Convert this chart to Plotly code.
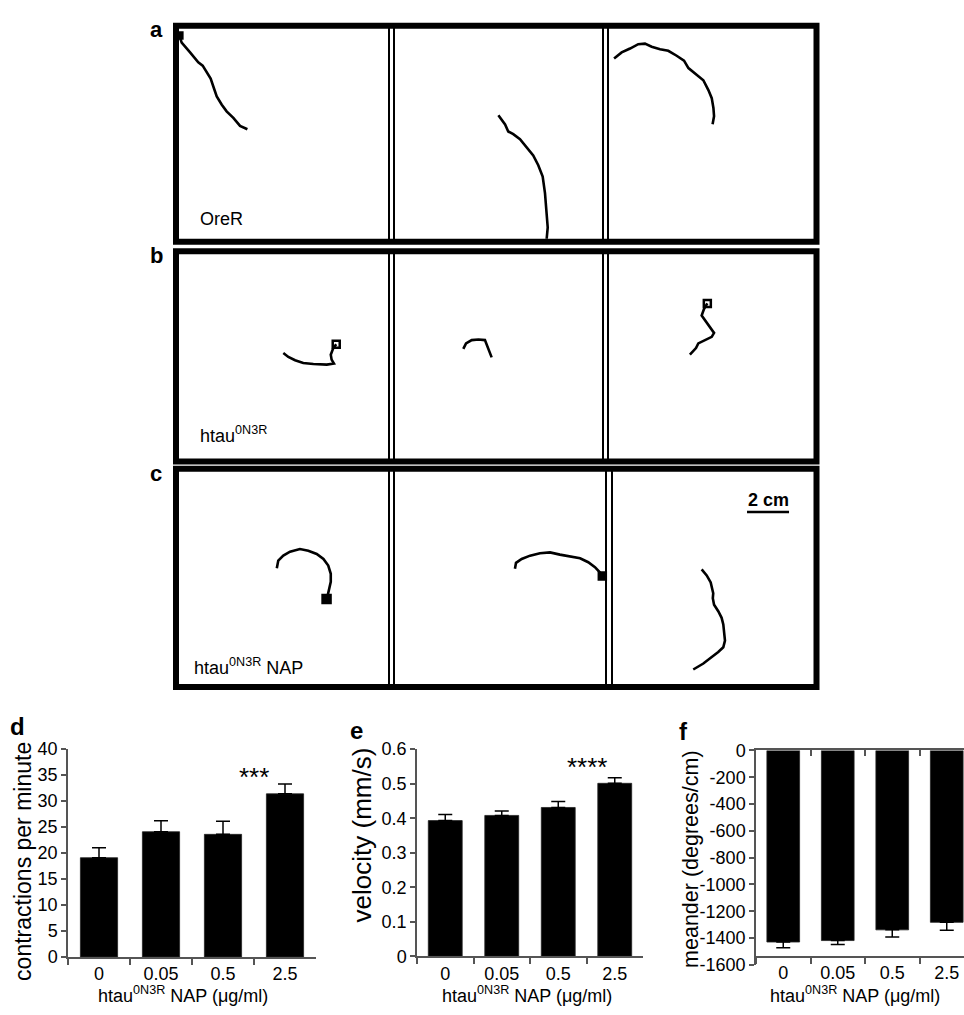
import plotly.graph_objects as go

W, H = 964, 1015
PX_PER_CM = 21.0
FONT = "Liberation Sans, Arial, Helvetica, sans-serif"
AX = "#555555"

# ---------------- bar-chart data ----------------
doses = ["0", "0.05", "0.5", "2.5"]
contractions = [19.1, 24.1, 23.6, 31.4]
contractions_sem = [1.9, 2.1, 2.5, 1.9]
velocity = [0.393, 0.408, 0.431, 0.501]
velocity_sem = [0.018, 0.013, 0.017, 0.016]
meander = [-1430, -1419, -1339, -1283]
meander_sem = [42, 30, 53, 60]

contr_ticks = [0, 5, 10, 15, 20, 25, 30, 35, 40]
vel_ticks = [0, 0.1, 0.2, 0.3, 0.4, 0.5, 0.6]
vel_ticktext = ["0", "0.1", "0.2", "0.3", "0.4", "0.5", "0.6"]
mea_ticks = [0, -200, -400, -600, -800, -1000, -1200, -1400, -1600]
mea_ticktext = ["0", "-200", "-400", "-600", "-800", "-1000", "-1200", "-1400", "-1600"]

sig_contr = "***"
sig_vel = "****"

# ---------------- larval tracks (cm from top-left corner of each arena) ----------------
a1_x = [0.16, 0.27, 0.67, 1.06, 1.27, 1.46, 1.65, 1.81, 1.94, 2.18, 2.41, 2.73, 3.05, 3.40]
a1_y = [0.48, 0.82, 1.30, 1.78, 1.94, 2.25, 2.57, 3.05, 3.44, 3.84, 4.16, 4.48, 4.87, 5.03]
a2_x = [4.97, 5.13, 5.29, 5.44, 5.68, 6.00, 6.32, 6.63, 6.87, 7.08, 7.19, 7.24, 7.27, 7.32, 7.27]
a2_y = [4.35, 4.56, 4.80, 5.14, 5.27, 5.51, 5.90, 6.30, 6.78, 7.33, 8.13, 8.76, 9.40, 9.80, 10.35]
a3_x = [0.29, 0.65, 1.05, 1.44, 1.76, 2.08, 2.48, 2.87, 3.27, 3.62, 3.83, 4.22, 4.54, 4.78, 4.94, 5.02, 5.05, 4.98]
a3_y = [1.59, 1.30, 1.11, 0.90, 0.87, 1.02, 1.14, 1.22, 1.46, 1.70, 2.06, 2.41, 2.65, 3.13, 3.52, 4.00, 4.40, 4.79]

b1_x = [5.11, 5.35, 5.67, 6.06, 6.54, 7.18, 7.52, 7.41, 7.37, 7.49, 7.63]
b1_y = [4.95, 5.14, 5.30, 5.43, 5.48, 5.51, 5.46, 5.27, 5.03, 4.71, 4.52]
b2_x = [3.30, 3.43, 3.70, 4.02, 4.33, 4.44, 4.54, 4.65]
b2_y = [4.75, 4.48, 4.32, 4.29, 4.32, 4.60, 4.87, 5.16]
b3_x = [4.73, 4.57, 4.46, 4.62, 4.86, 5.05, 4.94, 4.62, 4.30, 4.19, 3.99, 3.90]
b3_y = [2.54, 2.81, 3.13, 3.37, 3.68, 3.97, 4.16, 4.32, 4.48, 4.71, 4.95, 5.03]

c1_x = [4.80, 4.87, 5.11, 5.43, 5.90, 6.30, 6.70, 7.02, 7.25, 7.37, 7.37, 7.30, 7.21, 7.17]
c1_y = [4.83, 4.46, 4.22, 4.03, 3.90, 3.98, 4.14, 4.38, 4.70, 5.10, 5.49, 5.89, 6.21, 6.33]
c2_x = [5.76, 5.81, 6.08, 6.48, 6.95, 7.43, 7.90, 8.38, 8.86, 9.25, 9.57, 9.78, 9.89, 9.92]
c2_y = [4.86, 4.57, 4.38, 4.22, 4.10, 4.06, 4.17, 4.25, 4.35, 4.54, 4.78, 5.01, 5.21, 5.21]
c3_x = [4.27, 4.51, 4.70, 4.80, 4.82, 4.80, 4.86, 5.06, 5.22, 5.30, 5.33, 5.38, 5.30, 5.06, 4.75, 4.35, 3.87]
c3_y = [4.89, 5.18, 5.52, 5.89, 6.05, 6.29, 6.60, 6.92, 7.24, 7.56, 7.95, 8.35, 8.67, 8.90, 9.14, 9.46, 9.75]

scale_bar_cm = 2.0
scale_bar_start = (6.43, 2.10)

row_labels = ["OreR", "htau<sup>0N3R</sup>", "htau<sup>0N3R</sup> NAP"]
panel_letters = ["a", "b", "c", "d", "e", "f"]
x_title = "htau<sup>0N3R</sup> NAP (μg/ml)"
y_titles = ["contractions per minute", "velocity (mm/s)", "meander (degrees/cm)"]

# ---------------- geometry (pixels) ----------------
CELL_ROWS = [(16, 236.5), (246, 460.5), (468, 690.5)]
CELL_COLS = [
    [(176, 389), (394, 603), (608, 816.5)],
    [(176, 389), (394, 603), (608, 816.5)],
    [(176, 389), (394, 606), (612, 816.5)],
]
tracks = [
    [(a1_x, a1_y), (a2_x, a2_y), (a3_x, a3_y)],
    [(b1_x, b1_y), (b2_x, b2_y), (b3_x, b3_y)],
    [(c1_x, c1_y), (c2_x, c2_y), (c3_x, c3_y)],
]


def sfx(i):
    return "" if i == 1 else str(i)


def px(p):
    return p / W


def py(p):
    return 1 - p / H


fig = go.Figure()
layout = dict(
    width=W, height=H, autosize=False,
    margin=dict(l=0, r=0, t=0, b=0),
    paper_bgcolor="white", plot_bgcolor="white",
    showlegend=False,
    font=dict(family=FONT, color="black", size=18),
)
shapes = []
annotations = []

# ---- track arenas ----
for r in range(3):
    top, bot = CELL_ROWS[r]
    for c in range(3):
        i = r * 3 + c + 1
        left, right = CELL_COLS[r][c]
        layout["xaxis" + sfx(i)] = dict(
            domain=[px(left), px(right)], range=[0, (right - left) / PX_PER_CM],
            visible=False, anchor="y" + sfx(i), fixedrange=True)
        layout["yaxis" + sfx(i)] = dict(
            domain=[py(bot), py(top)], range=[(bot - top) / PX_PER_CM, 0],
            visible=False, anchor="x" + sfx(i), fixedrange=True)
        tx, ty = tracks[r][c]
        fig.add_trace(go.Scatter(x=tx, y=ty, mode="lines", xaxis="x" + sfx(i), yaxis="y" + sfx(i),
                                 line=dict(color="black", width=2.6), hoverinfo="skip"))
        shapes.append(dict(type="rect", xref="x" + sfx(i) + " domain", yref="y" + sfx(i) + " domain",
                           x0=0, x1=1, y0=0, y1=1, line=dict(color="black", width=2)))
    shapes.append(dict(type="rect", xref="paper", yref="paper",
                       x0=px(CELL_COLS[r][0][0]), x1=px(CELL_COLS[r][2][1]),
                       y0=py(bot), y1=py(top), line=dict(color="black", width=6)))


# start / end squares of tracks
def sq(i, x, y, symbol, size):
    fig.add_trace(go.Scatter(x=[x], y=[y], mode="markers", xaxis="x" + sfx(i), yaxis="y" + sfx(i),
                             cliponaxis=False, hoverinfo="skip",
                             marker=dict(symbol=symbol, size=size, color="black",
                                         line=dict(color="black", width=2.5))))


sq(1, a1_x[0], a1_y[0], "square", 6)
sq(4, b1_x[-1], b1_y[-1], "square-open", 7)
sq(6, b3_x[0], b3_y[0], "square-open", 7)
sq(7, c1_x[-1], c1_y[-1], "square", 8)
sq(8, c2_x[-1], c2_y[-1], "square", 7)

# scale bar
fig.add_trace(go.Scatter(x=[scale_bar_start[0], scale_bar_start[0] + scale_bar_cm],
                         y=[scale_bar_start[1], scale_bar_start[1]], mode="lines",
                         xaxis="x9", yaxis="y9", line=dict(color="black", width=2.5), hoverinfo="skip"))
annotations.append(dict(xref="x9", yref="y9", x=scale_bar_start[0] + scale_bar_cm / 2, y=1.50,
                        text="<b>2 cm</b>", showarrow=False, font=dict(size=18),
                        xanchor="center", yanchor="middle"))

# row labels
annotations.append(dict(xref="x", yref="y", x=1.05, y=9.38, text=row_labels[0], showarrow=False,
                        xanchor="left", yanchor="middle", font=dict(size=18)))
annotations.append(dict(xref="x4", yref="y4", x=1.05, y=8.90, text=row_labels[1], showarrow=False,
                        xanchor="left", yanchor="middle", font=dict(size=18)))
annotations.append(dict(xref="x7", yref="y7", x=0.76, y=9.62, text=row_labels[2], showarrow=False,
                        xanchor="left", yanchor="middle", font=dict(size=18)))

# ---- bar charts ----
bar_specs = [
    (contractions, contractions_sem, True, (68, 316), (754, 966), [0, 40], contr_ticks, [str(t) for t in contr_ticks]),
    (velocity, velocity_sem, True, (417, 643), (754, 965.3), [0, 0.6], vel_ticks, vel_ticktext),
    (meander, meander_sem, False, (756, 964), (755.3, 974), [-1600, 0], mea_ticks, mea_ticktext),
]
cat_range = [[-0.5, 3.5], [-0.5, 3.5], [-0.5, 3.5 - 10 / 54.5]]

for k, (vals, sem, up, (xl, xr), (yt, yb), yr, tv, tt) in enumerate(bar_specs):
    i = 10 + k
    err = dict(type="data", symmetric=False, color="black", thickness=1.5, width=7)
    if up:
        err.update(array=sem, arrayminus=[0] * len(sem))
    else:
        err.update(array=[0] * len(sem), arrayminus=sem)
    fig.add_trace(go.Bar(x=doses, y=vals, width=0.6, xaxis="x" + str(i), yaxis="y" + str(i),
                         marker=dict(color="black", line=dict(color="#222222", width=0.8)),
                         error_y=err, hoverinfo="skip"))
    xa = dict(type="category", categoryorder="array", categoryarray=doses,
              domain=[px(xl), min(1.0, px(xr))], range=cat_range[k],
              showline=True, linecolor=AX, linewidth=1.5,
              ticks="outside", tickson="boundaries", ticklen=6, tickcolor=AX, tickwidth=1.5,
              tickfont=dict(size=18, color="black"), showgrid=False, zeroline=False, fixedrange=True)
    if up:
        xa["anchor"] = "y" + str(i)
    else:
        xa["anchor"] = "free"
        xa["position"] = py(966)
    layout["xaxis" + str(i)] = xa
    layout["yaxis" + str(i)] = dict(
        domain=[py(yb), py(yt)], range=yr, anchor="x" + str(i),
        tickmode="array", tickvals=tv, ticktext=tt,
        showline=True, linecolor=AX, linewidth=1.5,
        ticks="outside", ticklen=5, tickcolor=AX, tickwidth=1.5,
        tickfont=dict(size=18, color="black"), showgrid=False, zeroline=False, fixedrange=True)

# zero line with category ticks on panel f
fig.add_trace(go.Scatter(x=doses, y=meander, xaxis="x13", yaxis="y12", mode="markers",
                         marker=dict(opacity=0), hoverinfo="skip"))
layout["xaxis13"] = dict(type="category", categoryorder="array", categoryarray=doses,
                         overlaying="x12", anchor="y12", side="top", range=cat_range[2],
                         showline=True, linecolor=AX, linewidth=1.5,
                         ticks="inside", tickson="boundaries", ticklen=6, tickcolor=AX, tickwidth=1.5,
                         showticklabels=False, showgrid=False, zeroline=False, fixedrange=True)

# significance stars
annotations.append(dict(xref="x10", yref="y10", x=doses[3], y=contractions[3] + contractions_sem[3],
                        text=sig_contr, showarrow=False, yanchor="bottom", yshift=-10, font=dict(size=26)))
annotations.append(dict(xref="x11", yref="y11", x=doses[3], y=velocity[3] + velocity_sem[3],
                        text=sig_vel, showarrow=False, yanchor="bottom", yshift=-6, font=dict(size=26)))

# axis titles
for cx, cy in [(183, 1004), (527, 1004), (855, 1004)]:
    annotations.append(dict(xref="paper", yref="paper", x=px(cx), y=py(cy), text=x_title,
                            showarrow=False, xanchor="center", yanchor="middle", font=dict(size=18)))
for (cx, cy), t, s in zip([(23, 869), (362, 842), (691, 867)], y_titles, [23, 26, 21.5]):
    annotations.append(dict(xref="paper", yref="paper", x=px(cx), y=py(cy), text=t, textangle=-90,
                            showarrow=False, xanchor="center", yanchor="middle", font=dict(size=s)))

# panel letters
for (cx, cy), t, s in zip([(156, 20), (156, 250), (156, 473), (17.5, 731), (356.5, 735), (683, 736)],
                          panel_letters, [22, 22, 22, 24, 24, 24]):
    annotations.append(dict(xref="paper", yref="paper", x=px(cx), y=py(cy), text="<b>" + t + "</b>",
                            showarrow=False, xanchor="center", yanchor="middle", font=dict(size=s)))

layout["shapes"] = shapes
layout["annotations"] = annotations
fig.update_layout(**layout)

fig.write_html("out.html", config={"displayModeBar": False},
               post_script="document.body.style.margin='0';document.body.style.overflow='hidden';")
